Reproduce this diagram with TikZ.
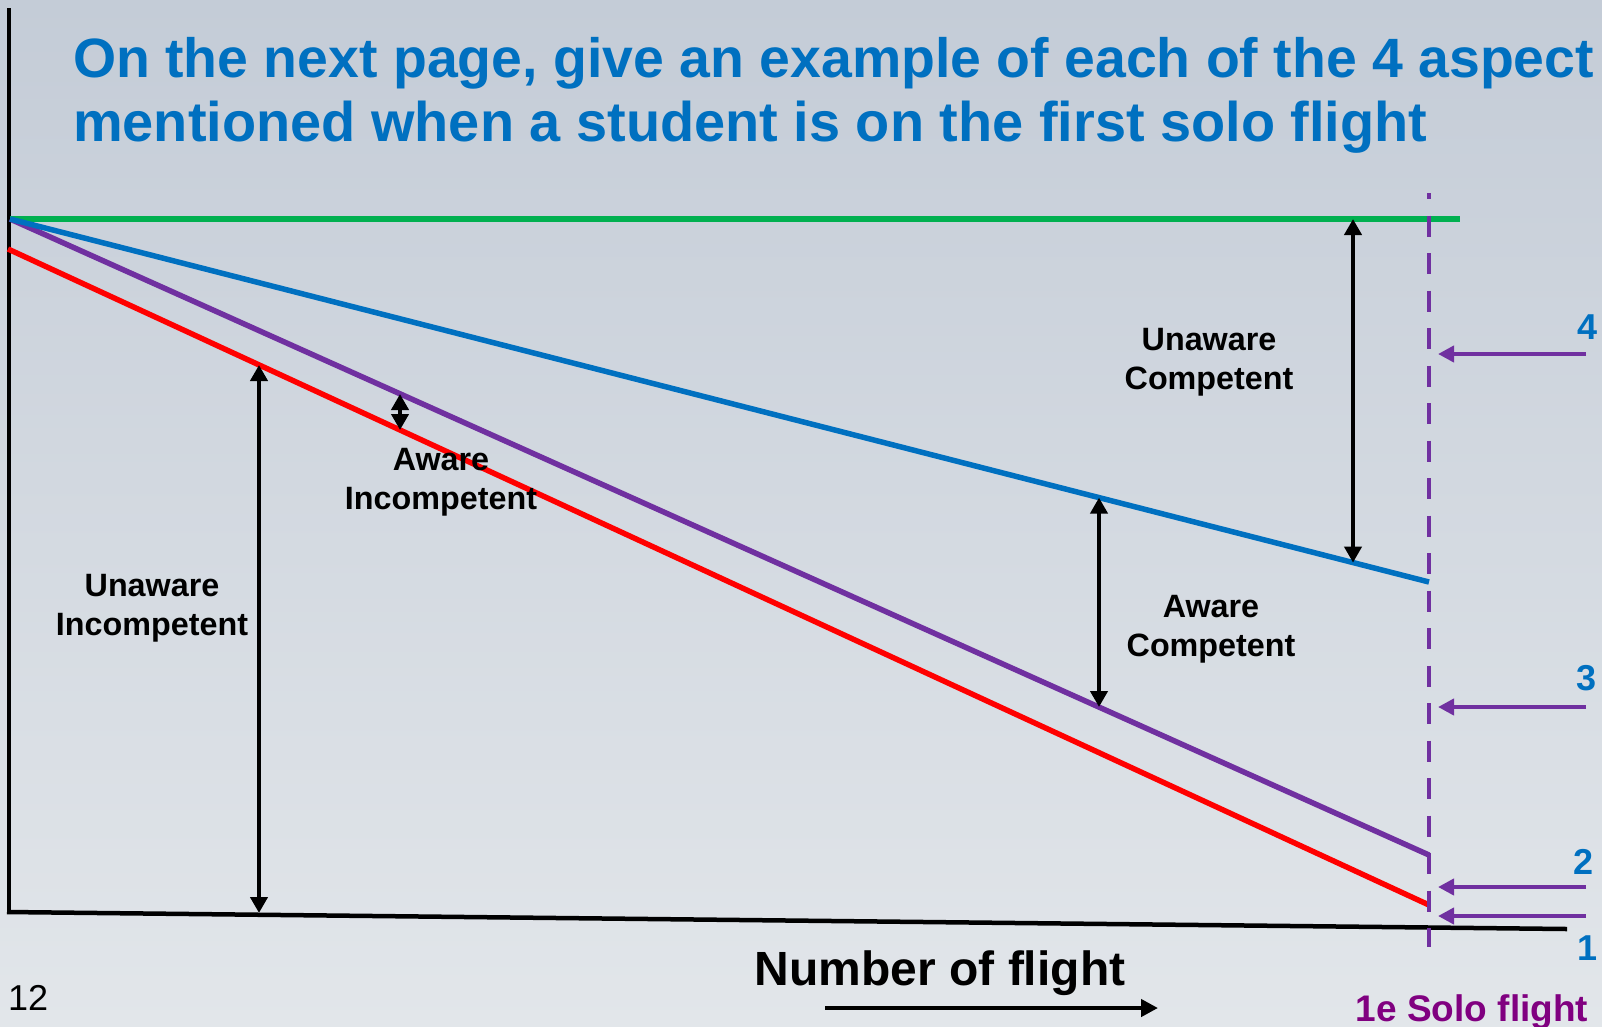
\documentclass[tikz,border=0pt]{standalone}
\usepackage{fontspec}
\setmainfont{Liberation Sans}
\usetikzlibrary{arrows.meta}
\definecolor{lgreen}{RGB}{0,176,80}
\definecolor{lblue}{RGB}{0,112,192}
\definecolor{lpurple}{RGB}{112,48,160}
\definecolor{lred}{RGB}{255,0,0}
\definecolor{solo}{RGB}{128,0,128}
\definecolor{skytop}{RGB}{196,204,215}
\definecolor{skymid}{RGB}{215,220,227}
\definecolor{skybot}{RGB}{226,230,234}
\begin{document}
\begin{tikzpicture}[x=1pt,y=-1pt,
  curve/.style={line width=5.5pt},
  axis/.style={line width=4.5pt,black},
  dbl/.style={line width=4pt,black,{Triangle[length=16pt,width=17pt]}-{Triangle[length=16pt,width=17pt]}},
  marker/.style={line width=4.5pt,lpurple,-{Triangle[length=16pt,width=16pt]}},
  lbl/.style={font=\bfseries\fontsize{32.3}{39}\selectfont,align=center,inner sep=0pt},
  num/.style={font=\bfseries\fontsize{36}{40}\selectfont,text=lblue,inner sep=0pt,anchor=base},
  titletext/.style={font=\bfseries\fontsize{55.9}{60}\selectfont,text=lblue,inner sep=0pt,anchor=base west},
]
\useasboundingbox (0,0) rectangle (1602,1026);
\shade[top color=skytop, middle color=skymid, bottom color=skybot] (0,0) rectangle (1602,1026);

% title
\node[titletext,font=\bfseries\fontsize{55.4}{60}\selectfont] (t1) at (73,77) {On the next page, give an example of each of the 4 aspect};
\node[titletext] (t2) at (73,141) {mentioned when a student is on the first solo flight};

% key points
\coordinate (O) at (10,219);
\coordinate (G) at (1460,219);
\coordinate (B) at (1429,582);
\coordinate (P) at (1429,855);
\coordinate (R0) at (8,249);
\coordinate (R1) at (1429,905);
\coordinate (Ytop) at (9,8);
\coordinate (Ybot) at (9,914);
\coordinate (X0) at (7,912);
\coordinate (X1) at (1567,929);
\coordinate (D0) at (1429,193);
\coordinate (D1) at (1429,947);

% axes
\draw[axis] (Ytop) -- (Ybot);
\draw[axis] (X0) -- (X1);

% curves
\draw[curve,lred] (R0) -- (R1);
\draw[curve,lpurple] (O) -- (P);
\draw[curve,lgreen] (O) -- (G);
\draw[curve,lblue] (O) -- (B);

% solo flight marker
\draw[line width=4.5pt,lpurple,dash pattern=on 21pt off 16.5pt,dash phase=15pt] (D0) -- (D1);

% double arrows
\coordinate (ui1) at (259,365);
\coordinate (ui2) at (259,913);
\coordinate (ai1) at (400,394);
\coordinate (ai2) at (400,430);
\coordinate (ac1) at (1099,497.6);
\coordinate (ac2) at (1099,707);
\coordinate (uc1) at (1353,219);
\coordinate (uc2) at (1353,562.6);
\draw[dbl] (ui1) -- (ui2);
\draw[dbl] (ai1) -- (ai2);
\draw[dbl] (ac1) -- (ac2);
\draw[dbl] (uc1) -- (uc2);

% labels
\node[lbl] (lui) at (152,608) {Unaware\\Incompetent};
\node[lbl] (lai) at (441,482) {Aware\\Incompetent};
\node[lbl] (lac) at (1211,629) {Aware\\Competent};
\node[lbl] (luc) at (1209,362) {Unaware\\Competent};

% stage markers
\coordinate (m4s) at (1586,354); \coordinate (m4e) at (1438,354);
\coordinate (m3s) at (1586,707); \coordinate (m3e) at (1438,707);
\coordinate (m2s) at (1586,887); \coordinate (m2e) at (1438,887);
\coordinate (m1s) at (1586,916); \coordinate (m1e) at (1438,916);
\draw[marker] (m4s) -- (m4e);
\draw[marker] (m3s) -- (m3e);
\draw[marker] (m2s) -- (m2e);
\draw[marker] (m1s) -- (m1e);
\node[num] (n4) at (1587,339) {4};
\node[num] (n3) at (1586,690) {3};
\node[num] (n2) at (1583,874) {2};
\node[num] (n1) at (1587,960) {1};

% bottom texts
\node[font=\bfseries\fontsize{37}{40}\selectfont,text=solo,inner sep=0pt,anchor=base] (solo) at (1472,1021) {1e Solo flight};
\node[font=\bfseries\fontsize{48}{52}\selectfont,inner sep=0pt,anchor=base] (nof) at (940,985) {Number of flight};
\coordinate (na0) at (825,1008);
\coordinate (na1) at (1158,1008);
\draw[line width=4.5pt,black,-{Triangle[length=17pt,width=17pt]}] (na0) -- (na1);
\node[font=\fontsize{36}{40}\selectfont,inner sep=0pt,anchor=base west] (pg) at (8,1010) {12};
\end{tikzpicture}
\end{document}
